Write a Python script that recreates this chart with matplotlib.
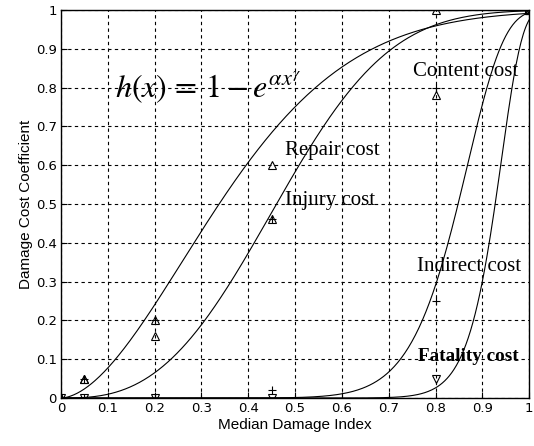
import matplotlib

matplotlib.use("Agg")
import matplotlib.pyplot as plt
import numpy as np

plt.rcParams["mathtext.fontset"] = "stix"

# fitted loss curves h(x) = 1 - exp(alpha * x**gamma)
curve_names = ["Repair", "Injury", "Indirect", "Fatality"]
alphas = [-4.73, -6.08, -5.0, -3.67]
gammas = [1.77, 2.80, 12.0, 22.1]

# observed cost coefficients at the median damage indices
damage_idx = [0.0, 0.05, 0.2, 0.45, 0.8, 1.0]
repair_pts = [0.0, 0.05, 0.2, 0.6, 1.0, 1.0]
content_pts = [0.0, 0.05, 0.16, 0.46, 0.78, 1.0]
injury_pts = [0.0, 0.05, 0.2, 0.46, 0.8, 1.0]
indirect_pts = [0.0, 0.0, 0.0, 0.02, 0.25, 1.0]
fatality_pts = [0.0, 0.0, 0.0, 0.0, 0.05, 1.0]

labels = ["Repair cost", "Injury cost", "Content cost", "Indirect cost", "Fatality cost"]
label_xy = [(0.479, 0.638), (0.479, 0.51), (0.752, 0.84), (0.76, 0.338), (0.763, 0.108)]
ticks = [round(0.1 * i, 1) for i in range(11)]
tick_text = ["0"] + [f"{t:g}" for t in ticks[1:-1]] + ["1"]

fig = plt.figure(figsize=(5.34, 4.46), dpi=100)
ax = fig.add_axes([0.114, 0.1076, 0.877, 0.8702])

xs = np.linspace(0, 1, 400)
for a, g in zip(alphas, gammas):
    ax.plot(xs, 1 - np.exp(a * xs ** g), color="black", lw=0.8)

mk = dict(color="black", linestyle="none", markersize=6, markeredgewidth=0.8)
ax.plot(damage_idx, repair_pts, marker="^", mfc="none", **mk)
ax.plot(damage_idx, content_pts, marker="^", mfc="none", **mk)
ax.plot(damage_idx, injury_pts, marker="+", **mk)
ax.plot(damage_idx, indirect_pts, marker="+", **mk)
ax.plot(damage_idx, fatality_pts, marker="v", mfc="none", **mk)
ax.plot([1.0], [1.0], marker="s", mfc="none", **mk)

serif = ["Liberation Serif", "DejaVu Serif"]
for (lx, ly), txt in zip(label_xy, labels):
    bold = txt.startswith("Fatality")
    ax.text(lx, ly, txt, family=serif, fontsize=13.8 if bold else 15, va="center",
            ha="left", fontweight="bold" if bold else "normal")

ax.text(0.115, 0.80, r"$h(x)\,=\,1-e^{\alpha x^{\gamma}}$", fontsize=23,
        va="center", ha="left")

ax.set_xlim(0, 1)
ax.set_ylim(0, 1)
ax.set_xticks(ticks)
ax.set_yticks(ticks)
ax.set_xticklabels(tick_text)
ax.set_yticklabels(tick_text)
ax.tick_params(direction="in", length=4, labelsize=9.5, colors="black", pad=3)
ax.grid(True, color="black", linestyle=(0, (3, 3)), linewidth=0.8)
for sp in ax.spines.values():
    sp.set_linewidth(1.0)
ax.set_xlabel("Median Damage Index", fontsize=11, family="Liberation Sans", labelpad=2)
ax.set_ylabel("Damage Cost Coefficient", fontsize=11, family="Liberation Sans", labelpad=2)

fig.savefig("out.png", dpi=100)
